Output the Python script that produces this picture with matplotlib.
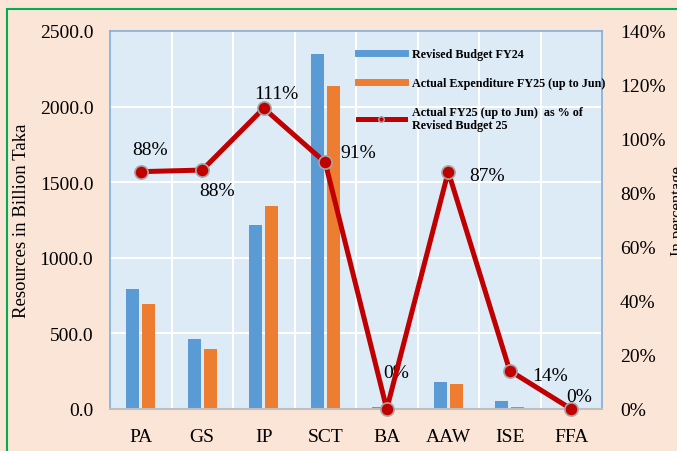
import matplotlib.pyplot as plt
from matplotlib.lines import Line2D
from matplotlib.patches import Rectangle
import numpy as np

plt.rcParams['font.family'] = ['Liberation Serif', 'DejaVu Serif']

# Data
categories = ['PA', 'GS', 'IP', 'SCT', 'BA', 'AAW', 'ISE', 'FFA']
revised_budget = [796, 460, 1220, 2350, 10, 177, 51, 0]
actual_expenditure = [696, 398, 1344, 2137, 0, 164, 15, 0]
pct_of_budget = [87.9, 88.5, 111.4, 91.3, 0, 87.9, 14.2, 0]
pct_labels = ['88%', '88%', '111%', '91%', '0%', '87%', '14%', '0%']

# label offsets (pixels) from each point
label_offsets = [(9, 22), (15, -20), (13, 15), (33, 10), (9, 36), (39, -4), (40, -5), (8, 12)]

fig_bg = '#FBE5D6'
plot_bg = '#DDEBF7'
blue = '#5B9BD5'
orange = '#ED7D31'
red = '#C00000'

fig = plt.figure(figsize=(6.77, 4.52), dpi=100, facecolor=fig_bg)
ax = fig.add_axes([110 / 677, 1 - 410 / 452, 492 / 677, 378 / 452])
ax.set_facecolor(plot_bg)

# green frame of the figure (left and top)
fig.patches.append(Rectangle((6.5 / 677, -0.05), 1.2, 1.05 - 10 / 452,
                             transform=fig.transFigure, fill=False,
                             edgecolor='#00B050', linewidth=1.5))

x = np.arange(len(categories))
w = 0.21
ax.bar(x - 0.133, revised_budget, w, color=blue, zorder=2)
ax.bar(x + 0.133, actual_expenditure, w, color=orange, zorder=2)

ax.set_xlim(-0.5, len(categories) - 0.5)
ax.set_ylim(0, 2500)
ax.set_yticks(np.arange(0, 2501, 500))
ax.set_yticklabels([f'{v:.1f}' for v in np.arange(0, 2501, 500)])
ax.set_xticks(x)
ax.set_xticklabels(categories)
ax.set_xticks(x[:-1] + 0.5, minor=True)
ax.grid(True, axis='y', color='white', linewidth=1.5, zorder=0)
ax.grid(True, axis='x', which='minor', color='white', linewidth=1.5, zorder=0)
ax.set_axisbelow(True)
ax.tick_params(axis='both', which='both', length=0, labelsize=14)
ax.tick_params(axis='y', pad=12)
ax.tick_params(axis='x', pad=14)
ax.set_ylabel('Resources in Billion Taka', fontsize=13.5)
ax.yaxis.set_label_coords(-80 / 492, 0.5)

for s in ['left', 'top', 'right']:
    ax.spines[s].set_color('#7FAEDD')
    ax.spines[s].set_linewidth(1.2)
ax.spines['bottom'].set_color('#BFBFBF')
ax.spines['bottom'].set_linewidth(1.5)

ax2 = ax.twinx()
ax2.plot(x, pct_of_budget, color=red, linewidth=3.6, marker='o', markersize=9.5,
         markerfacecolor=red, markeredgecolor='#A6A6A6', markeredgewidth=1.2,
         zorder=5, clip_on=False)
ax2.set_ylim(0, 140)
ax2.set_yticks(np.arange(0, 141, 20))
ax2.set_yticklabels([f'{v}%' for v in range(0, 141, 20)])
ax2.tick_params(axis='y', length=0, labelsize=14, pad=13)
for s in ax2.spines.values():
    s.set_visible(False)

for xi, yi, lab, off in zip(x, pct_of_budget, pct_labels, label_offsets):
    ax2.annotate(lab, (xi, yi), xytext=off, textcoords='offset pixels',
                 ha='center', va='center', fontsize=14)

fig.text(678 / 677, 1 - 211 / 452, 'In percentage', rotation=90, ha='center',
         va='center', fontsize=12)

handles = [
    Line2D([], [], color=blue, linewidth=5),
    Line2D([], [], color=orange, linewidth=5),
    Line2D([], [], color=red, linewidth=3.6, marker='o', markersize=4,
           markerfacecolor=red, markeredgecolor='#A6A6A6'),
]
labels = ['Revised Budget FY24', 'Actual Expenditure FY25 (up to Jun)',
          'Actual FY25 (up to Jun)  as % of\nRevised Budget 25']
leg = ax2.legend(handles, labels, loc='upper left',
                 bbox_to_anchor=(353 / 677, 1 - 44 / 452),
                 bbox_transform=fig.transFigure, frameon=False,
                 prop={'weight': 'bold', 'size': 8.7}, handlelength=3.9,
                 handletextpad=0.55, labelspacing=1.4, borderaxespad=0)

fig.savefig('out.png', dpi=100, facecolor=fig_bg)
